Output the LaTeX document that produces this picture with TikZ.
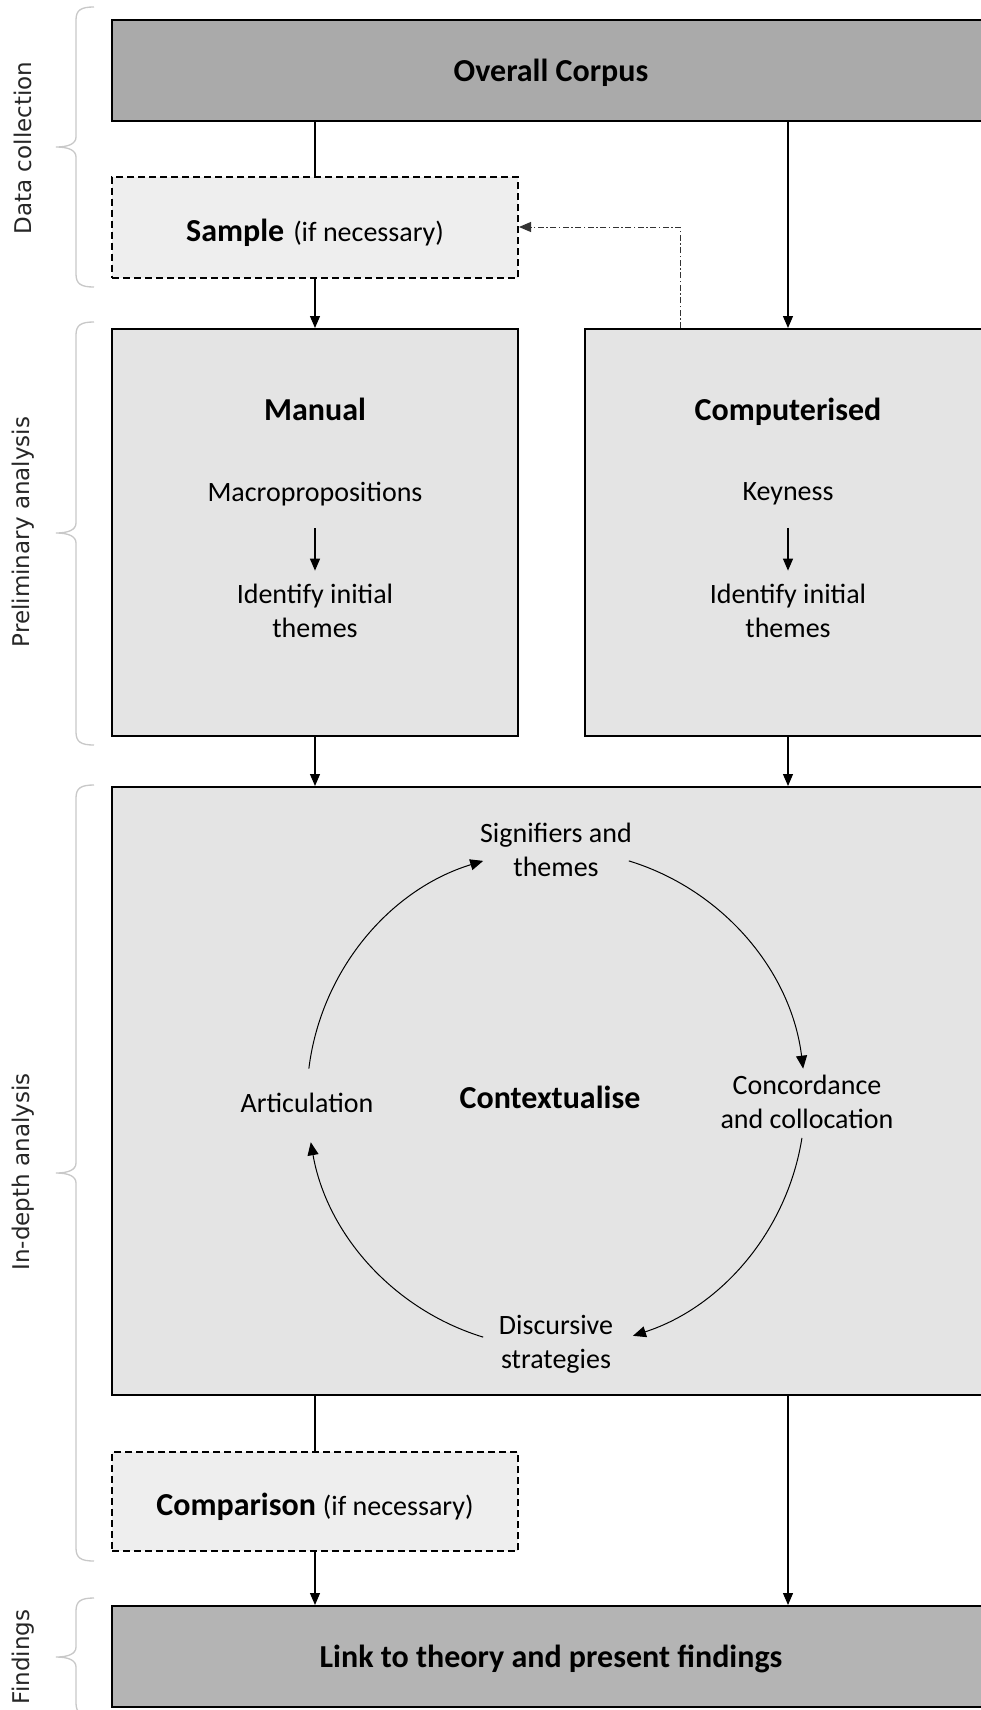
\documentclass[tikz,border=0pt]{standalone}
\usepackage{fontspec}
\setmainfont{Carlito}
\newfontfamily\sidefam{DejaVu Sans}
\usetikzlibrary{arrows.meta}
\definecolor{corpusgray}{RGB}{170,170,170}
\definecolor{findgray}{RGB}{180,180,180}
\definecolor{stagegray}{RGB}{228,228,228}
\definecolor{optgray}{RGB}{238,238,238}
\definecolor{bracegray}{RGB}{200,200,200}
\newcommand{\headfont}{\fontsize{32}{38}\selectfont\bfseries}
\newcommand{\plainfont}{\fontsize{28}{34}\selectfont}
\newcommand{\sidefont}{\sidefam\fontsize{23}{28}\selectfont}
\newcommand{\phasebrace}[3]{%
  \draw[phase] (94,#1) .. controls (81,#1) and (76,#1+3) .. (76,#1+13)
    -- (76,#2-10) .. controls (76,#2-3) and (68,#2) .. (56,#2)
    .. controls (68,#2) and (76,#2+3) .. (76,#2+10)
    -- (76,#3-13) .. controls (76,#3-3) and (81,#3) .. (94,#3);}

\begin{document}
\begin{tikzpicture}[x=1pt,y=-1pt,font=\plainfont,
    bar/.style={draw,line width=2pt,inner sep=0pt,minimum width=878pt,minimum height=101pt,font=\headfont,text height=24pt,text depth=2pt},
    stage/.style={draw,line width=2pt,fill=stagegray,inner sep=0pt},
    optional/.style={draw,line width=2pt,dash pattern=on 7pt off 4pt,fill=optgray,inner sep=0pt,minimum width=406pt,text height=28pt,text depth=0pt},
    flow/.style={line width=1.2pt,-{Triangle[length=12pt,width=10pt]}},
    plain/.style={line width=1.2pt},
    feedback/.style={line width=1pt,black!80,dash pattern=on 6pt off 2.5pt on 1.5pt off 2.5pt,-{Triangle[length=12pt,width=10pt]}},
    cycle/.style={line width=1pt,-{Triangle[length=13pt,width=11pt]}},
    phase/.style={line width=1.3pt,bracegray},
    sidelabel/.style={rotate=90,font=\sidefont,black!85}]
  \useasboundingbox (0,0) rectangle (981,1710);
  \fill[white] (0,0) rectangle (981,1710);
  \clip (0,0) rectangle (981,1710);

  \node[bar,fill=corpusgray] (corpus) at (551,70.5) {Overall Corpus};
  \node[optional,minimum height=101pt] (sample) at (315,227) {{\headfont Sample}\hspace{9pt}(if necessary)};
  \node[stage,minimum width=406pt,minimum height=407pt] (manual) at (315,532.5) {};
  \node[stage,minimum width=406pt,minimum height=407pt] (comp) at (788,532.5) {};
  \node[stage,minimum width=878pt,minimum height=608pt] (ctx) at (551,1091) {};
  \node[optional,minimum height=99pt] (comparison) at (315,1501.5) {{\headfont Comparison}\hspace{7pt}(if necessary)};
  \node[bar,fill=findgray] (findings) at (551,1656.5) {Link to theory and present findings};

  \node[font=\headfont] (mhead) at (315,409) {Manual};
  \node (macro) at (315,494) {Macropropositions};
  \node[align=center] (mthemes) at (315,611) {Identify initial\\themes};
  \node[font=\headfont] (chead) at (788,412) {Computerised};
  \node (keyness) at (788,494) {Keyness};
  \node[align=center] (cthemes) at (788,611) {Identify initial\\themes};
  \draw[flow,shorten <=19pt,shorten >=10pt] (macro) -- (mthemes);
  \draw[flow,shorten <=19pt,shorten >=10pt] (keyness) -- (cthemes);

  \coordinate (cyc) at (556,1099);
  \node[font=\headfont] (context) at (550,1097) {Contextualise};
  \node[align=center] (sig) at (556,850) {Signifiers and\\themes};
  \node[align=center] (conc) at (807,1102) {Concordance\\and collocation};
  \node[align=center] (disc) at (556,1344) {Discursive\\strategies};
  \node (art) at (307,1103) {Articulation};
  \draw[cycle] ([shift={(-73:249)}]cyc) arc[start angle=-73,end angle=-7,radius=249];
  \draw[cycle] ([shift={(9:249)}]cyc) arc[start angle=9,end angle=72,radius=249];
  \draw[cycle] ([shift={(107:249)}]cyc) arc[start angle=107,end angle=170,radius=249];
  \draw[cycle] ([shift={(-173:249)}]cyc) arc[start angle=-173,end angle=-107,radius=249];

  \coordinate (fbx) at (680,227);
  \draw[plain] (corpus.south -| sample) -- (sample);
  \draw[flow] (sample) -- (manual);
  \draw[flow] (corpus.south -| comp) -- (comp);
  \draw[feedback] (comp.north -| fbx) |- (sample.east);
  \draw[flow] (manual) -- (manual |- ctx.north);
  \draw[flow] (comp) -- (comp |- ctx.north);
  \draw[plain] (ctx.south -| comparison) -- (comparison);
  \draw[flow] (comparison) -- (comparison |- findings.north);
  \draw[flow] (ctx.south -| comp) -- (comp |- findings.north);

  \phasebrace{7}{147}{287}
  \phasebrace{322}{533}{745}
  \phasebrace{785}{1173}{1561}
  \phasebrace{1598}{1657}{1716}
  \node[sidelabel] (lcollect) at (23,148) {Data collection};
  \node[sidelabel] (lprelim) at (23,532) {Preliminary analysis};
  \node[sidelabel] (ldepth) at (23,1172) {In-depth analysis};
  \node[sidelabel] (lfind) at (23,1657) {Findings};
\end{tikzpicture}
\end{document}
